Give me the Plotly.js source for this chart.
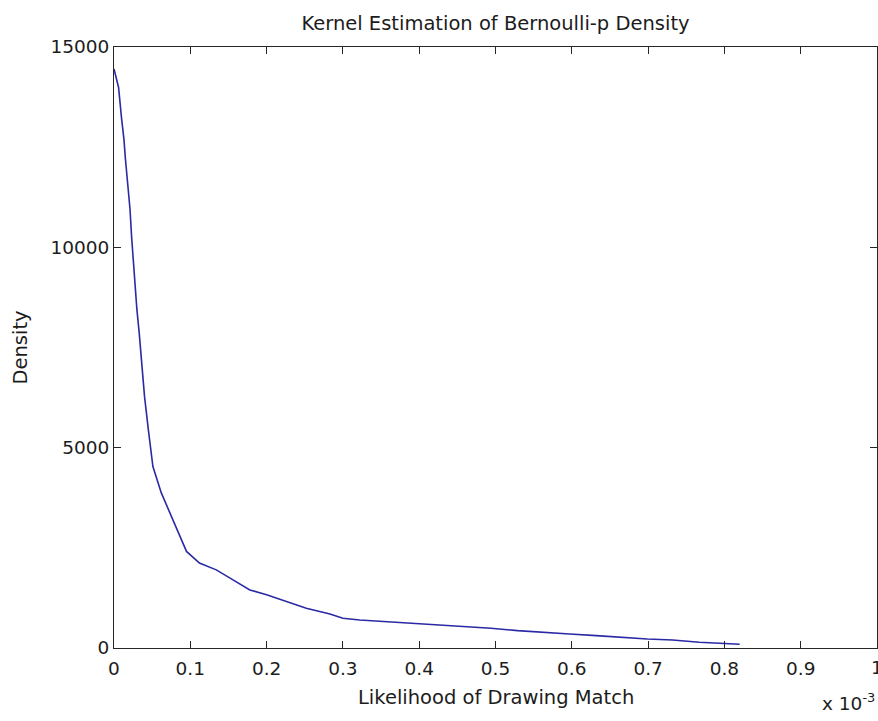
<!DOCTYPE html>
<html>
<head>
<meta charset="utf-8">
<script src="https://cdn.plot.ly/plotly-3.0.1.min.js"></script>
<style>
  html, body { margin: 0; padding: 0; background: #ffffff; }
  #chart { width: 878px; height: 721px; }
</style>
</head>
<body>
<div id="chart"></div>
<script>
// Likelihood values, in units of 1e-3
const likelihood = [
  0.000, 0.006, 0.010, 0.013, 0.015, 0.018, 0.021, 0.023, 0.025, 0.028,
  0.030, 0.033, 0.036, 0.040, 0.045, 0.051, 0.062, 0.073, 0.086, 0.095,
  0.112, 0.134, 0.156, 0.178, 0.200, 0.226, 0.252, 0.283, 0.300, 0.322,
  0.357, 0.392, 0.427, 0.462, 0.494, 0.529, 0.564, 0.597, 0.632, 0.667,
  0.699, 0.732, 0.767, 0.820
];
// Kernel density estimate at each likelihood value
const density = [
  14450, 13990, 13200, 12700, 12200, 11620, 10950, 10280, 9700, 9030,
  8450, 7870, 7120, 6280, 5450, 4530, 3870, 3370, 2780, 2410,
  2120, 1950, 1700, 1450, 1330, 1160, 990, 850, 742, 700,
  658, 617, 575, 533, 492, 433, 383, 350, 308, 258,
  225, 200, 142, 92
];
const xTicks = [0, 0.1, 0.2, 0.3, 0.4, 0.5, 0.6, 0.7, 0.8, 0.9];
const xTickText = ['0', '0.1', '0.2', '0.3', '0.4', '0.5', '0.6', '0.7', '0.8', '0.9'];
// the last x label sits on the right frame edge and is drawn separately
const xLastTick = 1;
const xLastTickText = '1';
const yTicks = [0, 5000, 10000, 15000];
const yTickText = ['0', '5000', '10000', '15000'];

const FONT = 'DejaVu Sans, Arial, sans-serif';
const INK = '#1c1c1c';

const trace = {
  x: likelihood,
  y: density,
  type: 'scatter',
  mode: 'lines',
  line: { color: '#2a2aa6', width: 1.6 },
  hoverinfo: 'skip'
};

const axisCommon = {
  showline: true,
  linecolor: '#262626',
  linewidth: 1,
  mirror: 'ticks',
  ticks: 'inside',
  ticklen: 7,
  tickwidth: 1,
  tickcolor: '#262626',
  showgrid: false,
  zeroline: false,
  tickfont: { family: FONT, size: 18.5, color: INK }
};

const layout = {
  width: 878,
  height: 721,
  margin: { l: 114, r: 1, t: 47, b: 73 },
  paper_bgcolor: '#ffffff',
  plot_bgcolor: '#ffffff',
  showlegend: false,
  title: {
    text: 'Kernel Estimation of Bernoulli-p Density',
    font: { family: FONT, size: 19.5, color: INK },
    x: 0.5, xref: 'paper', xanchor: 'center',
    y: 1 - 23 / 721, yref: 'container', yanchor: 'middle'
  },
  xaxis: Object.assign({}, axisCommon, {
    range: [0, 1],
    tickmode: 'array',
    tickvals: xTicks,
    ticktext: xTickText,
    ticklabelstandoff: 4
  }),
  yaxis: Object.assign({}, axisCommon, {
    range: [0, 15000],
    tickmode: 'array',
    tickvals: yTicks,
    ticktext: yTickText
  }),
  annotations: [
    {
      text: xLastTickText,
      xref: 'x', yref: 'paper',
      x: xLastTick, y: (648 - 667) / 601,
      xanchor: 'center', yanchor: 'middle',
      showarrow: false,
      font: { family: FONT, size: 18.5, color: INK }
    },
    {
      text: 'Likelihood of Drawing Match',
      xref: 'paper', yref: 'paper',
      x: 0.5, y: (648 - 697) / 601,
      xanchor: 'center', yanchor: 'middle',
      showarrow: false,
      font: { family: FONT, size: 19.5, color: INK }
    },
    {
      text: 'Density',
      xref: 'paper', yref: 'paper',
      x: (20 - 114) / 763, y: 0.5,
      xanchor: 'center', yanchor: 'middle',
      textangle: -90,
      showarrow: false,
      font: { family: FONT, size: 19.5, color: INK }
    },
    {
      text: 'x 10<sup>-3</sup>',
      xref: 'paper', yref: 'paper',
      x: 1, y: (648 - 702) / 601,
      xanchor: 'right', yanchor: 'middle',
      showarrow: false,
      font: { family: FONT, size: 18.5, color: INK }
    }
  ]
};

Plotly.newPlot('chart', [trace], layout, { displayModeBar: false, staticPlot: true });
</script>
</body>
</html>
